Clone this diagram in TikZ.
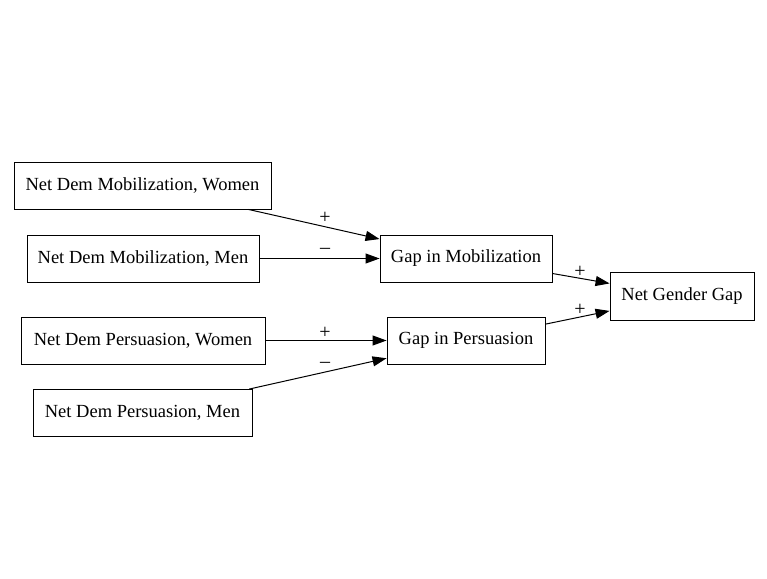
\documentclass[tikz,border=0pt]{standalone}
\usepackage{fontspec}
\setmainfont{Liberation Serif}
\usetikzlibrary{arrows.meta}
\begin{document}
\begin{tikzpicture}[x=1pt,y=-1pt,
  box/.style={draw,line width=0.9pt,inner sep=0pt,minimum height=47pt,font=\fontsize{18.5}{22}\selectfont},
  conn/.style={line width=1pt,-{Triangle[length=14pt,width=10pt]}},
  lbl/.style={font=\fontsize{20}{23}\selectfont,inner sep=0pt}]
\useasboundingbox (0,0) rectangle (767,578);
\node[box,minimum width=257pt] (w1) at (142.5,185.5) {Net Dem Mobilization, Women};
\node[box,minimum width=232pt] (m1) at (143,258.5) {Net Dem Mobilization, Men};
\node[box,minimum width=244pt] (w2) at (143,340.5) {Net Dem Persuasion, Women};
\node[box,minimum width=219pt] (m2) at (142.5,413) {Net Dem Persuasion, Men};
\node[box,minimum width=172pt] (gm) at (466,258.5) {Gap in Mobilization};
\node[box,minimum width=158pt] (gp) at (466,340.5) {Gap in Persuasion};
\node[box,minimum width=144pt,minimum height=48pt] (ng) at (682,296) {Net Gender Gap};
\draw[conn] (w1) -- (gm);
\draw[conn] (m1) -- (gm);
\draw[conn] (w2) -- (gp);
\draw[conn] (m2) -- (gp);
\draw[conn] (gm) -- (ng);
\draw[conn] (gp) -- (ng);
\node[lbl] (l1) at (325,218) {+};
\node[lbl] (l2) at (325,251) {–};
\node[lbl] (l3) at (325,333) {+};
\node[lbl] (l4) at (325,365) {–};
\node[lbl] (l5) at (580,272) {+};
\node[lbl] (l6) at (580,310) {+};
\end{tikzpicture}
\end{document}
